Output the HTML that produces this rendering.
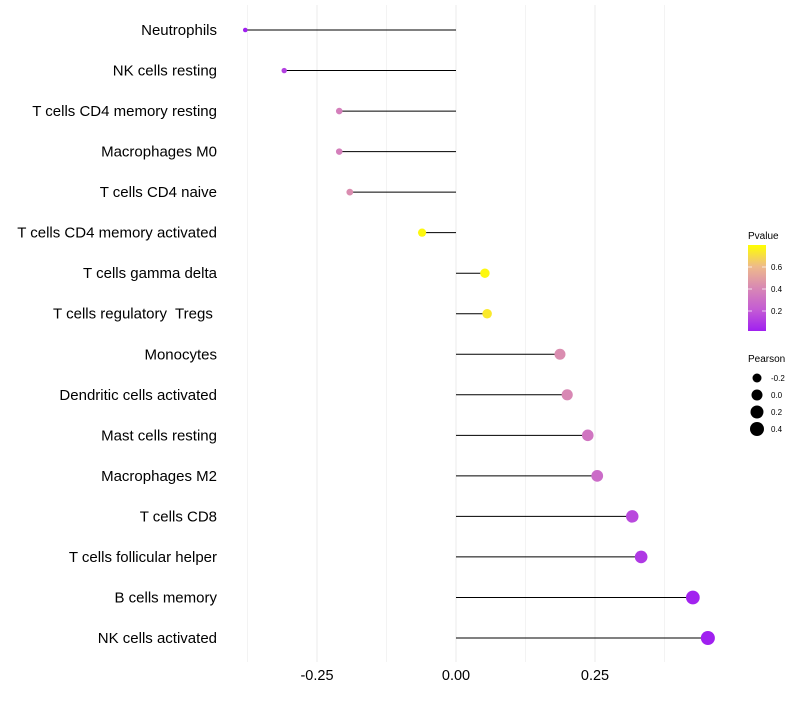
<!DOCTYPE html>
<html><head><meta charset="utf-8"><style>
body{margin:0;background:#fff;font-family:"Liberation Sans",sans-serif}
svg text{font-family:"Liberation Sans",sans-serif;white-space:pre}
</style></head><body>
<svg id="c" width="800" height="700">
<defs><linearGradient id="pg" x1="0" y1="1" x2="0" y2="0">
<stop offset="0" stop-color="#a020f0"/><stop offset="0.25" stop-color="#c45cd4"/>
<stop offset="0.5" stop-color="#d888b4"/><stop offset="0.75" stop-color="#eeba8a"/>
<stop offset="1" stop-color="#ffff00"/></linearGradient></defs>
<g id="grid"></g><g id="marks"></g><g id="labels"></g>
<g>
<text x="748" y="239" font-size="10">Pvalue</text>
<rect x="748" y="245" width="18" height="86" fill="url(#pg)"/>
<g stroke="#fff" stroke-width="1" opacity="0.7"><line x1="748" x2="752" y1="267" y2="267"/><line x1="762" x2="766" y1="267" y2="267"/><line x1="748" x2="752" y1="289" y2="289"/><line x1="762" x2="766" y1="289" y2="289"/><line x1="748" x2="752" y1="311" y2="311"/><line x1="762" x2="766" y1="311" y2="311"/></g>
<text x="771" y="270" font-size="8">0.6</text><text x="771" y="292" font-size="8">0.4</text><text x="771" y="314" font-size="8">0.2</text>
</g>
<g>
<text x="748" y="362" font-size="10">Pearson</text>
<circle cx="757" cy="378" r="4.5"/><text x="771" y="381" font-size="8">-0.2</text>
<circle cx="757" cy="395" r="5.5"/><text x="771" y="398" font-size="8">0.0</text>
<circle cx="757" cy="412" r="6.5"/><text x="771" y="415" font-size="8">0.2</text>
<circle cx="757" cy="429" r="7"/><text x="771" y="432" font-size="8">0.4</text>
</g>
</svg>
<script>
const categories=["Neutrophils","NK cells resting","T cells CD4 memory resting","Macrophages M0","T cells CD4 naive","T cells CD4 memory activated","T cells gamma delta","T cells regulatory  Tregs ","Monocytes","Dendritic cells activated","Mast cells resting","Macrophages M2","T cells CD8","T cells follicular helper","B cells memory","NK cells activated"];
const pearson=[-0.379,-0.309,-0.210,-0.210,-0.191,-0.061,0.052,0.056,0.187,0.200,0.237,0.254,0.317,0.333,0.426,0.453];
const pvalues=[0.02,0.12,0.36,0.36,0.42,0.76,0.76,0.72,0.42,0.40,0.32,0.28,0.15,0.10,0.03,0.02];
const xTicks=[-0.25,0,0.25];
const xTickLabels=["-0.25","0.00","0.25"];
const minorTicks=[-0.375,-0.125,0.125,0.375];
const NS="http://www.w3.org/2000/svg";
const x=v=>456+v*556;
const y=i=>30+i*(608/15);
const rr=v=>2.3+(v+0.38)*(4.7/0.83);
function col(p){const t=Math.max(0,Math.min(1,(p-0.02)/0.76));
const st=[[0,[160,32,240]],[0.25,[196,92,212]],[0.5,[216,136,180]],[0.75,[238,186,138]],[1,[255,255,0]]];
for(let k=0;k<st.length-1;k++){if(t<=st[k+1][0]){const f=(t-st[k][0])/(st[k+1][0]-st[k][0]);const a=st[k][1],b=st[k+1][1];return `rgb(${a.map((c,j)=>Math.round(c+(b[j]-c)*f)).join(',')})`;}}return "rgb(255,255,0)";}
function mk(tag,attrs,parent){const e=document.createElementNS(NS,tag);for(const k in attrs)e.setAttribute(k,attrs[k]);document.getElementById(parent).appendChild(e);return e;}
minorTicks.forEach(v=>{const l=mk('line',{x1:x(v),x2:x(v),y1:5,y2:662,stroke:'#f3f3f3','stroke-width':1},'grid');

});
xTicks.forEach((v,i)=>{const l=mk('line',{x1:x(v),x2:x(v),y1:5,y2:662,stroke:'#ebebeb','stroke-width':1},'grid');


const t=mk('text',{x:x(v),y:680,'font-size':14.5,'text-anchor':'middle',fill:'#000'},'labels');t.textContent=xTickLabels[i];

});
categories.forEach((c,i)=>{
const l=mk('line',{x1:x(0),x2:x(pearson[i]),y1:y(i),y2:y(i),stroke:'#000','stroke-width':1},'marks');


const d=mk('circle',{cx:x(pearson[i]),cy:y(i),r:rr(pearson[i]),fill:col(pvalues[i])},'marks');


const t=mk('text',{x:217,y:y(i)+5,'font-size':15,'text-anchor':'end',fill:'#000'},'labels');t.textContent=c;

});
</script>
</body></html>
